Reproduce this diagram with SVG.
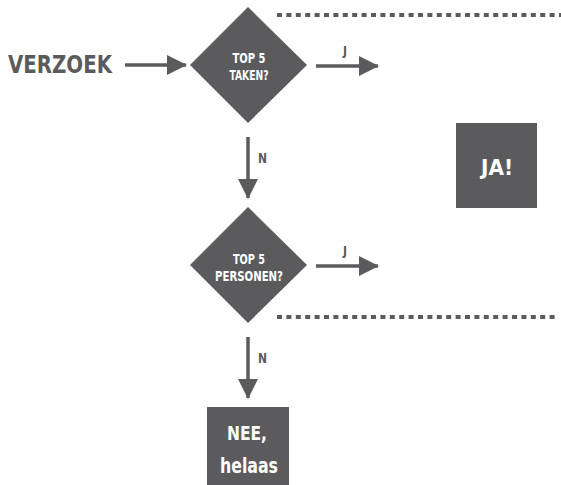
<svg xmlns="http://www.w3.org/2000/svg" width="561" height="485" viewBox="0 0 561 485">
<defs>
<style>
.shape{fill:#5b5b5d}
.lbl{fill:#ffffff;font-family:"DejaVu Sans Condensed","DejaVu Sans",sans-serif;font-weight:bold;text-anchor:middle}
.dark{fill:#5b5b5d;font-family:"DejaVu Sans Condensed","DejaVu Sans",sans-serif;font-weight:bold;text-anchor:middle}
.arrow{stroke:#5b5b5d;stroke-width:3.5;fill:none;marker-end:url(#head)}
.dots{stroke:#5b5b5d;stroke-width:4;stroke-dasharray:5 4.4;fill:none}
</style>
<marker id="head" markerUnits="userSpaceOnUse" markerWidth="20" markerHeight="20" refX="19" refY="10" orient="auto" viewBox="0 0 20 20">
<path d="M0,0 L20,10 L0,20 Z" fill="#5b5b5d"/>
</marker>
</defs>
<rect width="561" height="485" fill="#ffffff"/>
<g id="dividers">
<line class="dots" x1="277" y1="15" x2="561" y2="15"/>
<line class="dots" x1="277" y1="317" x2="559" y2="317"/>
</g>
<g id="verzoek">
<text class="dark" x="60" y="73" font-size="25" textLength="104" lengthAdjust="spacingAndGlyphs">VERZOEK</text>
</g>
<g id="top5taken">
<polygon class="shape" points="248,7 307,65 248,123 190,65"/>
<text class="lbl" x="249" y="62.5" font-size="14" textLength="33" lengthAdjust="spacingAndGlyphs">TOP 5</text>
<text class="lbl" x="249" y="80" font-size="14" textLength="39" lengthAdjust="spacingAndGlyphs">TAKEN?</text>
</g>
<g id="top5personen">
<polygon class="shape" points="248,207 307,265 248,323 190,265"/>
<text class="lbl" x="249" y="263.5" font-size="14" textLength="32" lengthAdjust="spacingAndGlyphs">TOP 5</text>
<text class="lbl" x="249" y="281" font-size="14" textLength="68" lengthAdjust="spacingAndGlyphs">PERSONEN?</text>
</g>
<g id="ja">
<rect class="shape" x="456" y="123" width="81" height="85"/>
<text class="lbl" x="497" y="175" font-size="21" textLength="32" lengthAdjust="spacingAndGlyphs">JA!</text>
</g>
<g id="nee">
<rect class="shape" x="207" y="407" width="82" height="78"/>
<text class="lbl" x="247" y="440" font-size="20" textLength="40" lengthAdjust="spacingAndGlyphs">NEE,</text>
<text class="lbl" x="249" y="473" font-size="21" textLength="58" lengthAdjust="spacingAndGlyphs">helaas</text>
</g>
<g id="connectors">
<line class="arrow" x1="125" y1="65" x2="186" y2="65"/>
<line class="arrow" x1="316" y1="66" x2="378" y2="66"/>
<text class="dark" x="345" y="55" font-size="12">J</text>
<line class="arrow" x1="248" y1="137" x2="248" y2="198"/>
<text class="dark" x="262.5" y="163" font-size="14" textLength="9" lengthAdjust="spacingAndGlyphs">N</text>
<line class="arrow" x1="316" y1="266" x2="378" y2="266"/>
<text class="dark" x="345" y="255" font-size="12">J</text>
<line class="arrow" x1="248" y1="337" x2="248" y2="398"/>
<text class="dark" x="262.5" y="363" font-size="14" textLength="9" lengthAdjust="spacingAndGlyphs">N</text>
</g>
</svg>
